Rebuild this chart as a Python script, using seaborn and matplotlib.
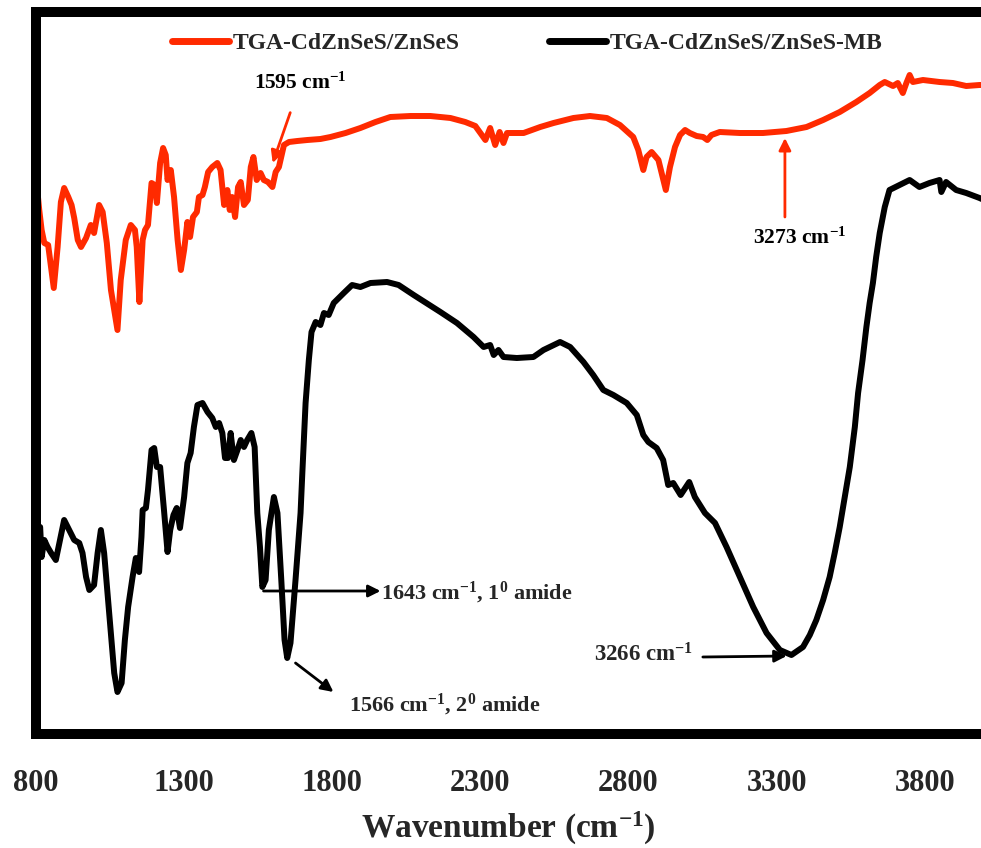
import numpy as np
import matplotlib
matplotlib.use("Agg")
import matplotlib.pyplot as plt
import seaborn as sns

# FTIR spectra (wavenumber in cm-1, transmittance in a.u.)
wn_qd = [806, 811, 819, 828, 841, 860, 873, 884, 895, 909, 920, 929, 941, 952, 969, 985,
         996, 1013, 1025, 1039, 1053, 1075, 1086, 1103, 1120, 1134, 1140, 1149, 1160, 1168,
         1178, 1190, 1201, 1208, 1219, 1229, 1238, 1244, 1255, 1266, 1278, 1289, 1300, 1311,
         1320, 1330, 1343, 1350, 1362, 1370, 1381, 1395, 1412, 1423, 1435, 1446, 1454, 1462,
         1472, 1482, 1491, 1502, 1515, 1525, 1534, 1545, 1558, 1569, 1583, 1598, 1609, 1620,
         1637, 1654, 1682, 1716, 1760, 1794, 1845, 1895, 1946, 1996, 2064, 2131, 2199, 2249,
         2283, 2300, 2317, 2333, 2350, 2365, 2378, 2390, 2446, 2502, 2547, 2614, 2670, 2727,
         2771, 2816, 2833, 2850, 2861, 2878, 2901, 2915, 2926, 2940, 2957, 2974, 2991, 3007,
         3030, 3052, 3066, 3080, 3108, 3176, 3254, 3333, 3401, 3457, 3513, 3569, 3614, 3648,
         3665, 3693, 3709, 3726, 3738, 3749, 3760, 3794, 3850, 3895, 3940, 3985, 4000]
t_qd = [539, 524, 504, 491, 489, 446, 487, 532, 546, 537, 529, 516, 494, 487, 496, 509,
        501, 529, 522, 491, 444, 404, 454, 494, 509, 504, 487, 432, 494, 504,
        509, 551, 549, 531, 571, 586, 579, 554, 564, 537, 494, 464, 484, 512,
        497, 517, 522, 537, 539, 547, 562, 567, 571, 564, 529, 544, 524, 537,
        517, 547, 552, 529, 534, 567, 577, 554, 561, 554, 552, 547, 562, 567,
        589, 592, 593, 594, 595, 597, 601, 606, 612, 617, 618, 618, 616, 612,
        608, 601, 594, 606, 589, 602, 591, 601, 601, 607, 611, 616, 618, 616,
        609, 597, 584, 564, 577, 582, 574, 557, 544, 567, 587, 599, 604, 601,
        598, 597, 594, 599, 602, 601, 601, 603, 607, 614, 622, 632, 641, 649,
        652, 648, 651, 641, 651, 659, 652, 654, 652, 651, 648, 649, 649]

wn_mb = [807, 814, 819, 828, 839, 851, 867, 879, 895, 912, 929, 946, 957, 969, 980, 996,
         1008, 1019, 1030, 1047, 1064, 1075, 1089, 1100, 1111, 1126, 1137, 1148, 1156, 1160,
         1171, 1178, 1190, 1199, 1208, 1219, 1232, 1244, 1253, 1264, 1275, 1286, 1300, 1311,
         1322, 1333, 1345, 1362, 1379, 1395, 1407, 1418, 1429, 1438, 1448, 1457, 1468, 1480,
         1491, 1502, 1513, 1527, 1538, 1547, 1556, 1564, 1575, 1586, 1603, 1615, 1628, 1639,
         1648, 1659, 1676, 1693, 1699, 1710, 1721, 1730, 1744, 1760, 1772, 1788, 1805, 1839,
         1867, 1895, 1929, 1985, 2024, 2075, 2165, 2221, 2277, 2311, 2333, 2345, 2361, 2378,
         2423, 2479, 2513, 2569, 2603, 2648, 2681, 2715, 2749, 2794, 2828, 2850, 2867, 2895,
         2917, 2934, 2951, 2976, 3005, 3024, 3058, 3092, 3131, 3176, 3221, 3266, 3311, 3350,
         3389, 3412, 3434, 3457, 3479, 3496, 3513, 3530, 3547, 3564, 3575, 3590, 3603, 3614,
         3625, 3636, 3648, 3665, 3681, 3715, 3749, 3782,
         3816, 3850, 3856, 3872, 3906, 3940, 3985, 4000]
t_mb = [204, 207, 177, 194, 187, 181, 174, 191, 214, 204, 194, 191, 181, 157, 144, 149,
        181, 204, 181, 121, 61, 42, 51, 94, 127, 157, 176, 162, 197, 224,
        226, 244, 284, 286, 267, 267, 224, 182, 204, 219, 226, 206, 237, 271,
        281, 307, 329, 331, 322, 316, 307, 311, 301, 276, 276, 301, 274, 284,
        294, 287, 294, 301, 287, 221, 187, 147, 154, 204, 237, 221, 154, 94,
        76, 91, 154, 221, 261, 331, 374, 402, 412, 409, 421, 419, 431, 441,
        449, 447, 451, 452, 449, 439, 422, 411, 397, 387, 389, 379, 384, 377,
        376, 377, 384, 392, 387, 372, 359, 344, 339, 331, 319, 299, 292, 286,
        274, 249, 251, 239, 252, 237, 221, 211, 187, 157, 127, 101, 84, 79,
        87, 99, 114, 134, 157, 181, 207, 237, 267, 307, 341, 374, 407, 431,
        451, 477, 501, 527, 544, 549, 554, 547,
        551, 554, 542, 552, 544, 541, 536, 534]

xticks = [800, 1300, 1800, 2300, 2800, 3300, 3800]
red = "#ff2a00"

sns.set_style("white")
plt.rcParams["font.family"] = ["Liberation Serif", "DejaVu Serif"]
plt.rcParams["font.weight"] = "bold"

fig = plt.figure(figsize=(9.81, 8.48), dpi=100)
ax = fig.add_axes([36 / 981, 1 - 734 / 848, 948 / 981, 722 / 848])

sns.lineplot(x=wn_qd, y=t_qd, color=red, linewidth=4.3, ax=ax,
             label="TGA-CdZnSeS/ZnSeS", solid_joinstyle="round")
sns.lineplot(x=wn_mb, y=t_mb, color="black", linewidth=4.3, ax=ax,
             label="TGA-CdZnSeS/ZnSeS-MB", solid_joinstyle="round")

ax.set_xlim(800, 4000)
ax.set_ylim(0, 722)
ax.set_xticks(xticks)
ax.set_xticklabels([str(t) for t in xticks], fontsize=22, fontweight="bold")
ax.set_yticks([])
ax.tick_params(axis="x", direction="out", length=8, width=3, pad=17, color="black")
for s in ax.spines.values():
    s.set_linewidth(7.2)
    s.set_color("black")

ax.set_xlabel("Wavenumber (cm$\\mathregular{^{-1}}$)", fontsize=24, fontweight="bold")
ax.xaxis.set_label_coords(0.498, -0.105)

leg = ax.legend(loc="center", bbox_to_anchor=(527 / 981, 1 - 43 / 848),
                bbox_transform=fig.transFigure, ncol=2, frameon=False,
                prop={"family": "Liberation Serif", "weight": "bold", "size": 17},
                handlelength=2.4, handletextpad=0.15, columnspacing=3.8)
for h in leg.get_lines():
    h.set_linewidth(5)

sup = "cm$\\mathregular{^{-1}}$"
ax.annotate("1595 " + sup, xy=(1599, 571), xytext=(1693, 651), color="black",
            fontsize=15.5, fontweight="bold", ha="center", va="center",
            arrowprops=dict(arrowstyle="-|>", color=red, lw=2, mutation_scale=18,
                            shrinkA=12, shrinkB=0))
ax.annotate("3273 " + sup, xy=(3328, 596), xytext=(3378, 496), color="black",
            fontsize=15.5, fontweight="bold", ha="center", va="center")
ax.annotate("", xy=(3328, 596), xytext=(3328, 517),
            arrowprops=dict(arrowstyle="-|>", color=red, lw=2, mutation_scale=18,
                            shrinkA=0, shrinkB=0))
ax.annotate("1643 " + sup + ", 1$\\mathregular{^{0}}$ amide", xy=(1958, 143),
            xytext=(1963, 141), fontsize=16, fontweight="bold", ha="left", va="center")
ax.annotate("", xy=(1963, 143), xytext=(1568, 143),
            arrowprops=dict(arrowstyle="-|>", color="black", lw=2, mutation_scale=18,
                            shrinkA=0, shrinkB=0))
ax.annotate("1566 " + sup + ", 2$\\mathregular{^{0}}$ amide", xy=(1855, 29),
            xytext=(1855, 29), fontsize=16, fontweight="bold", ha="left", va="center")
ax.annotate("", xy=(1804, 42), xytext=(1676, 71),
            arrowprops=dict(arrowstyle="-|>", color="black", lw=2, mutation_scale=18,
                            shrinkA=0, shrinkB=0))
ax.annotate("3266 " + sup, xy=(3020, 79), xytext=(3020, 79), fontsize=16.5,
            fontweight="bold", ha="right", va="center")
ax.annotate("", xy=(3334, 78), xytext=(3051, 77),
            arrowprops=dict(arrowstyle="-|>", color="black", lw=2, mutation_scale=18,
                            shrinkA=0, shrinkB=0))

fig.savefig("out.png", dpi=100)
